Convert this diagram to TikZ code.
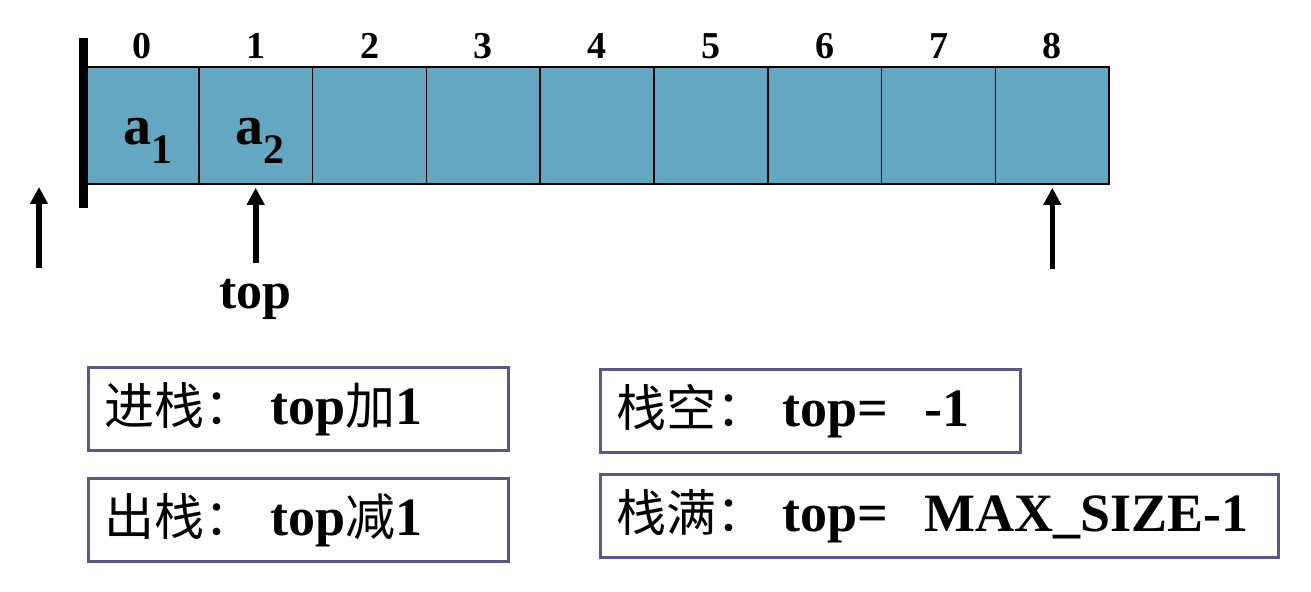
\documentclass[tikz,border=0pt]{standalone}
\usepackage{fontspec}
\setmainfont{Liberation Serif}
\newfontfamily\cjk{Noto Sans CJK SC}
\usetikzlibrary{positioning,arrows.meta}

\definecolor{cellblue}{RGB}{99,168,192}
\definecolor{boxline}{RGB}{88,88,138}

\newcommand{\hz}[1]{{\mdseries\cjk\fontsize{25}{27}\selectfont #1}}
\newcommand{\elem}[1]{a\raisebox{-9.5pt}{\fontsize{21}{22}\selectfont #1}}

\tikzset{
  cell/.style={draw=black, line width=0.8pt, fill=cellblue, minimum width=56.9pt, minimum height=58.5pt, inner sep=0pt},
  elem/.style={inner sep=0pt, anchor=base, font=\bfseries\fontsize{28}{30}\selectfont},
  idx/.style={inner sep=0pt, anchor=base, font=\bfseries\fontsize{19}{20}\selectfont},
  ptr/.style={line width=2.8pt, -{Triangle[length=8.5pt,width=8.5pt]}},
  lbl/.style={inner sep=0pt, font=\bfseries\fontsize{26}{28}\selectfont},
  opbox/.style={draw=boxline, line width=1.5pt, inner xsep=8pt, inner ysep=0pt, minimum height=41.5pt, text width=#1, align=left, font=\bfseries\fontsize{27}{29}\selectfont}
}

\begin{document}
\begin{tikzpicture}[x=0.5pt, y=-0.5pt]
    \useasboundingbox (0,0) rectangle (1311,592);

    % array of nine cells
    \foreach \i in {0,...,8} {
        \node[cell] (c\i) at ({141.9+113.8*\i},125.5) {};
        \node[idx] (n\i) at ([yshift=4pt]c\i.north) {\i};
    }
    \draw[line width=4.5pt] (83,38) -- (83,208);

    \node[elem] (a1) at ([xshift=3pt,yshift=-9.75pt]c0.center) {\elem{1}};
    \node[elem] (a2) at ([xshift=2pt,yshift=-9.75pt]c1.center) {\elem{2}};

    % pointers
    \coordinate (base) at (39,268);
    \coordinate (tip) at (39,187);
    \draw[ptr] (base) -- (tip);

    \node[lbl, below=47pt of c1.south] (toplbl) {top};
    \draw[ptr, shorten <=8pt, shorten >=1.5pt] (toplbl.north) -- (c1.south);

    \coordinate (full) at ([yshift=-42pt]c8.south);
    \draw[ptr, shorten >=1.5pt] (full) -- (c8.south);

    % rules
    \node[opbox=194pt, anchor=north west] (push) at (87,366) {\hz{进栈：}\hspace{8pt}top\hz{加}1};
    \node[opbox=194pt, below right=12.5pt and 0pt of push.south west] (pop) {\hz{出栈：}\hspace{8pt}top\hz{减}1};
    \node[opbox=194pt, anchor=north west] (empty) at (599,368) {\hz{栈空：}\hspace{8pt}top=\ \ -1};
    \node[opbox=323pt, below right=9.5pt and 0pt of empty.south west] (fullst) {\hz{栈满：}\hspace{8pt}top=\ \ MAX\_SIZE-1};
\end{tikzpicture}
\end{document}
